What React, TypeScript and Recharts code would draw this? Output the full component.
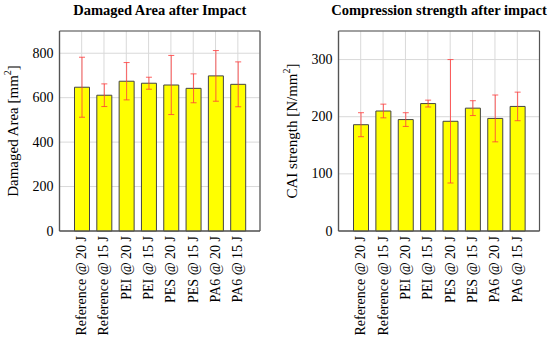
import React from 'react';
import { BarChart, Bar, XAxis, YAxis, CartesianGrid, ErrorBar } from 'recharts';

const categories = ['Reference @ 20 J', 'Reference @ 15 J', 'PEI @ 20 J', 'PEI @ 15 J', 'PES @ 20 J', 'PES @ 15 J', 'PA6 @ 20 J', 'PA6 @ 15 J'];
const damagedArea = [647, 611, 674, 665, 657, 642, 698, 660];
const damagedAreaErr = [135, 51, 84, 27, 133, 65, 114, 101];
const caiStrength = [186, 210, 195, 223, 192, 215, 197, 218];
const caiErr = [21, 12, 12, 6, 108, 13, 41, 25];
const areaTicks = [0, 200, 400, 600, 800];
const caiTicks = [0, 100, 200, 300];

const areaData = categories.map((name, i) => ({ name, value: damagedArea[i], err: damagedAreaErr[i] }));
const caiData = categories.map((name, i) => ({ name, value: caiStrength[i], err: caiErr[i] }));

const FONT = '"Liberation Serif", "DejaVu Serif", serif';
const FRAME = '#555555';

const XTick = (props: any) => {
  const { x, y, payload } = props;
  return (
    <text x={x} y={y} transform={`rotate(-90, ${x}, ${y})`} textAnchor="end" dominantBaseline="central"
      fontSize={14} fontFamily={FONT} fill="#000">
      {payload.value}
    </text>
  );
};

const YTick = (props: any) => {
  const { x, y, payload } = props;
  return (
    <text x={x} y={y} textAnchor="end" dominantBaseline="central" fontSize={14} fontFamily={FONT} fill="#000">
      {payload.value}
    </text>
  );
};

const makeYLabel = (main: string, unitPre: string) => (props: any) => {
  const vb = props.viewBox || {};
  const cx = vb.x + vb.width - 47;
  const cy = vb.y + vb.height / 2;
  return (
    <text x={cx} y={cy} transform={`rotate(-90, ${cx}, ${cy})`} textAnchor="middle" dominantBaseline="central"
      fontSize={15} fontFamily={FONT} fill="#000">
      {main + ' [' + unitPre}
      <tspan dy={-6} fontSize={10}>2</tspan>
      <tspan dy={6}>]</tspan>
    </text>
  );
};

const edgesH = ({ offset }: any) => [offset.top, offset.top + offset.height];
const edgesV = ({ offset }: any) => [offset.left, offset.left + offset.width];

type PanelProps = {
  data: any[];
  ticks: number[];
  max: number;
  title: string;
  yMain: string;
  yUnit: string;
  yWidth: number;
  rightMargin: number;
};

const TOP = 31;

const Panel = ({ data, ticks, max, title, yMain, yUnit, yWidth, rightMargin }: PanelProps) => (
  <div style={{ position: 'relative', width: 275, height: 337 }}>
    <div style={{
      position: 'absolute', left: yWidth + (275 - yWidth - rightMargin) / 2, top: 2, transform: 'translateX(-50%)',
      fontFamily: FONT, fontWeight: 'bold', fontSize: 14.5, lineHeight: '17px', whiteSpace: 'nowrap', color: '#000'
    }}>{title}</div>
    <BarChart width={275} height={337} data={data} margin={{ top: TOP, right: rightMargin, left: 0, bottom: 0 }}>
      <CartesianGrid stroke="#d9d9d9" strokeWidth={1} />
      <XAxis dataKey="name" height={106} interval={0} padding={{ left: 11, right: 11 }}
        tick={<XTick />} tickLine={false} tickSize={0} tickMargin={5}
        axisLine={{ stroke: FRAME, strokeWidth: 1.2 }} />
      <YAxis domain={[0, max]} ticks={ticks} width={yWidth} tickLine={false} tickSize={0} tickMargin={6}
        tick={<YTick />}
        axisLine={{ stroke: FRAME, strokeWidth: 1.2 }} label={{ content: makeYLabel(yMain, yUnit) }} />
      <Bar dataKey="value" fill="#ffff00" stroke="#444444" strokeWidth={1} barSize={15} isAnimationActive={false}>
        <ErrorBar dataKey="err" width={3} stroke="#ff3b3b" strokeOpacity={0.8} strokeWidth={1} />
      </Bar>
      <CartesianGrid stroke={FRAME} strokeWidth={1.2} fill="none"
        horizontalCoordinatesGenerator={edgesH} verticalCoordinatesGenerator={edgesV} />
    </BarChart>
  </div>
);

export default function App() {
  return (
    <div style={{ position: 'absolute', left: 0, top: 0, width: 550, height: 337, display: 'flex', background: '#fff', overflow: 'hidden' }}>
      <Panel data={areaData} ticks={areaTicks} max={900} title="Damaged Area after Impact"
        yMain="Damaged Area" yUnit="mm" yWidth={59.5} rightMargin={15} />
      <Panel data={caiData} ticks={caiTicks} max={350} title="Compression strength after impact"
        yMain="CAI strength" yUnit="N/mm" yWidth={63.5} rightMargin={10.5} />
    </div>
  );
}
